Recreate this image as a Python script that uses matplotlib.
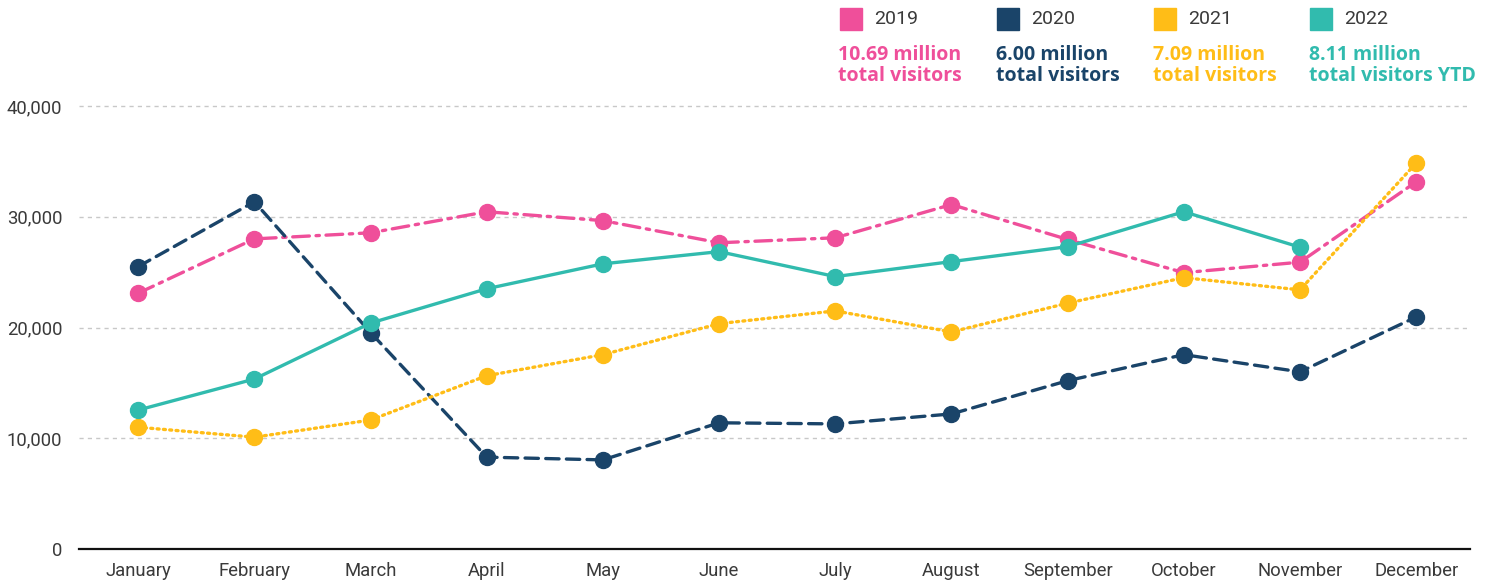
import matplotlib
matplotlib.use("Agg")
import matplotlib.pyplot as plt
from matplotlib.patches import Rectangle
from matplotlib.ticker import FuncFormatter

months = ["January", "February", "March", "April", "May", "June", "July",
          "August", "September", "October", "November", "December"]

visitors_2019 = [23100, 28000, 28550, 30450, 29650, 27650, 28100, 31100,
                 27950, 24950, 25900, 33150]
visitors_2020 = [25500, 31350, 19550, 8300, 8050, 11400, 11300, 12200,
                 15200, 17550, 16000, 20950]
visitors_2021 = [11000, 10100, 11650, 15650, 17550, 20350, 21500, 19600,
                 22200, 24500, 23400, 34850]
visitors_2022 = [12550, 15350, 20400, 23500, 25750, 26850, 24600, 25950,
                 27300, 30450, 27250]

years = ["2019", "2020", "2021", "2022"]
totals = ["10.69 million\ntotal visitors", "6.00 million\ntotal visitors",
          "7.09 million\ntotal visitors", "8.11 million\ntotal visitors YTD"]

PINK = "#EF4F9A"
NAVY = "#1A4469"
YELLOW = "#FFBD17"
TEAL = "#31BBAE"

series = [
    (visitors_2019, PINK, (0, (5, 2, 1, 2))),
    (visitors_2020, NAVY, (0, (4, 2.2))),
    (visitors_2021, YELLOW, (0, (0.6, 1.3))),
    (visitors_2022, TEAL, "-"),
]

fig = plt.figure(figsize=(14.89, 5.86), dpi=100)
ax = fig.add_axes([0.053, 0.063, 0.934, 0.794])

for values, color, style in series:
    x = list(range(len(values)))
    ax.plot(x, values, color=color, linestyle=style, linewidth=2.4,
            marker="o", markersize=11.5, dash_capstyle="round", zorder=3)

ax.set_xlim(-0.51, 11.46)
ax.set_ylim(0, 42000)
ax.set_xticks(range(12))
ax.set_xticklabels(months)
ax.set_yticks([0, 10000, 20000, 30000, 40000])
ax.yaxis.set_major_formatter(FuncFormatter(lambda v, p: f"{int(v):,}"))

ax.grid(axis="y", color="#C8C8C8", linestyle=(0, (3, 3)), linewidth=1)
ax.set_axisbelow(True)
for side in ["top", "right", "left"]:
    ax.spines[side].set_visible(False)
ax.spines["bottom"].set_linewidth(1.6)
ax.spines["bottom"].set_color("#111111")
ax.tick_params(axis="both", length=0, labelsize=13.3, labelcolor="#3a3a3a")
ax.tick_params(axis="x", pad=9)
ax.tick_params(axis="y", pad=12)
for lbl in ax.get_xticklabels() + ax.get_yticklabels():
    lbl.set_fontfamily("Roboto")

# legend block at the top right
W, H = 1489, 586
sq_x = [840, 997, 1154, 1310]
txt_x = [838, 996, 1153, 1309]
for i, color in enumerate([PINK, NAVY, YELLOW, TEAL]):
    fig.patches.append(Rectangle((sq_x[i] / W, 1 - 30 / H), 22 / W, 22 / H,
                                 transform=fig.transFigure, color=color))
    fig.text((sq_x[i] + 34) / W, 1 - 19 / H, years[i], fontsize=14,
             family="Roboto", color="#3a3a3a", va="center", ha="left")
    fig.text(txt_x[i] / W, 1 - 45 / H, totals[i], fontsize=14,
             family="Open Sans", fontweight="bold", color=color, va="top",
             ha="left", linespacing=1.05)

fig.savefig("out.png", dpi=100)
